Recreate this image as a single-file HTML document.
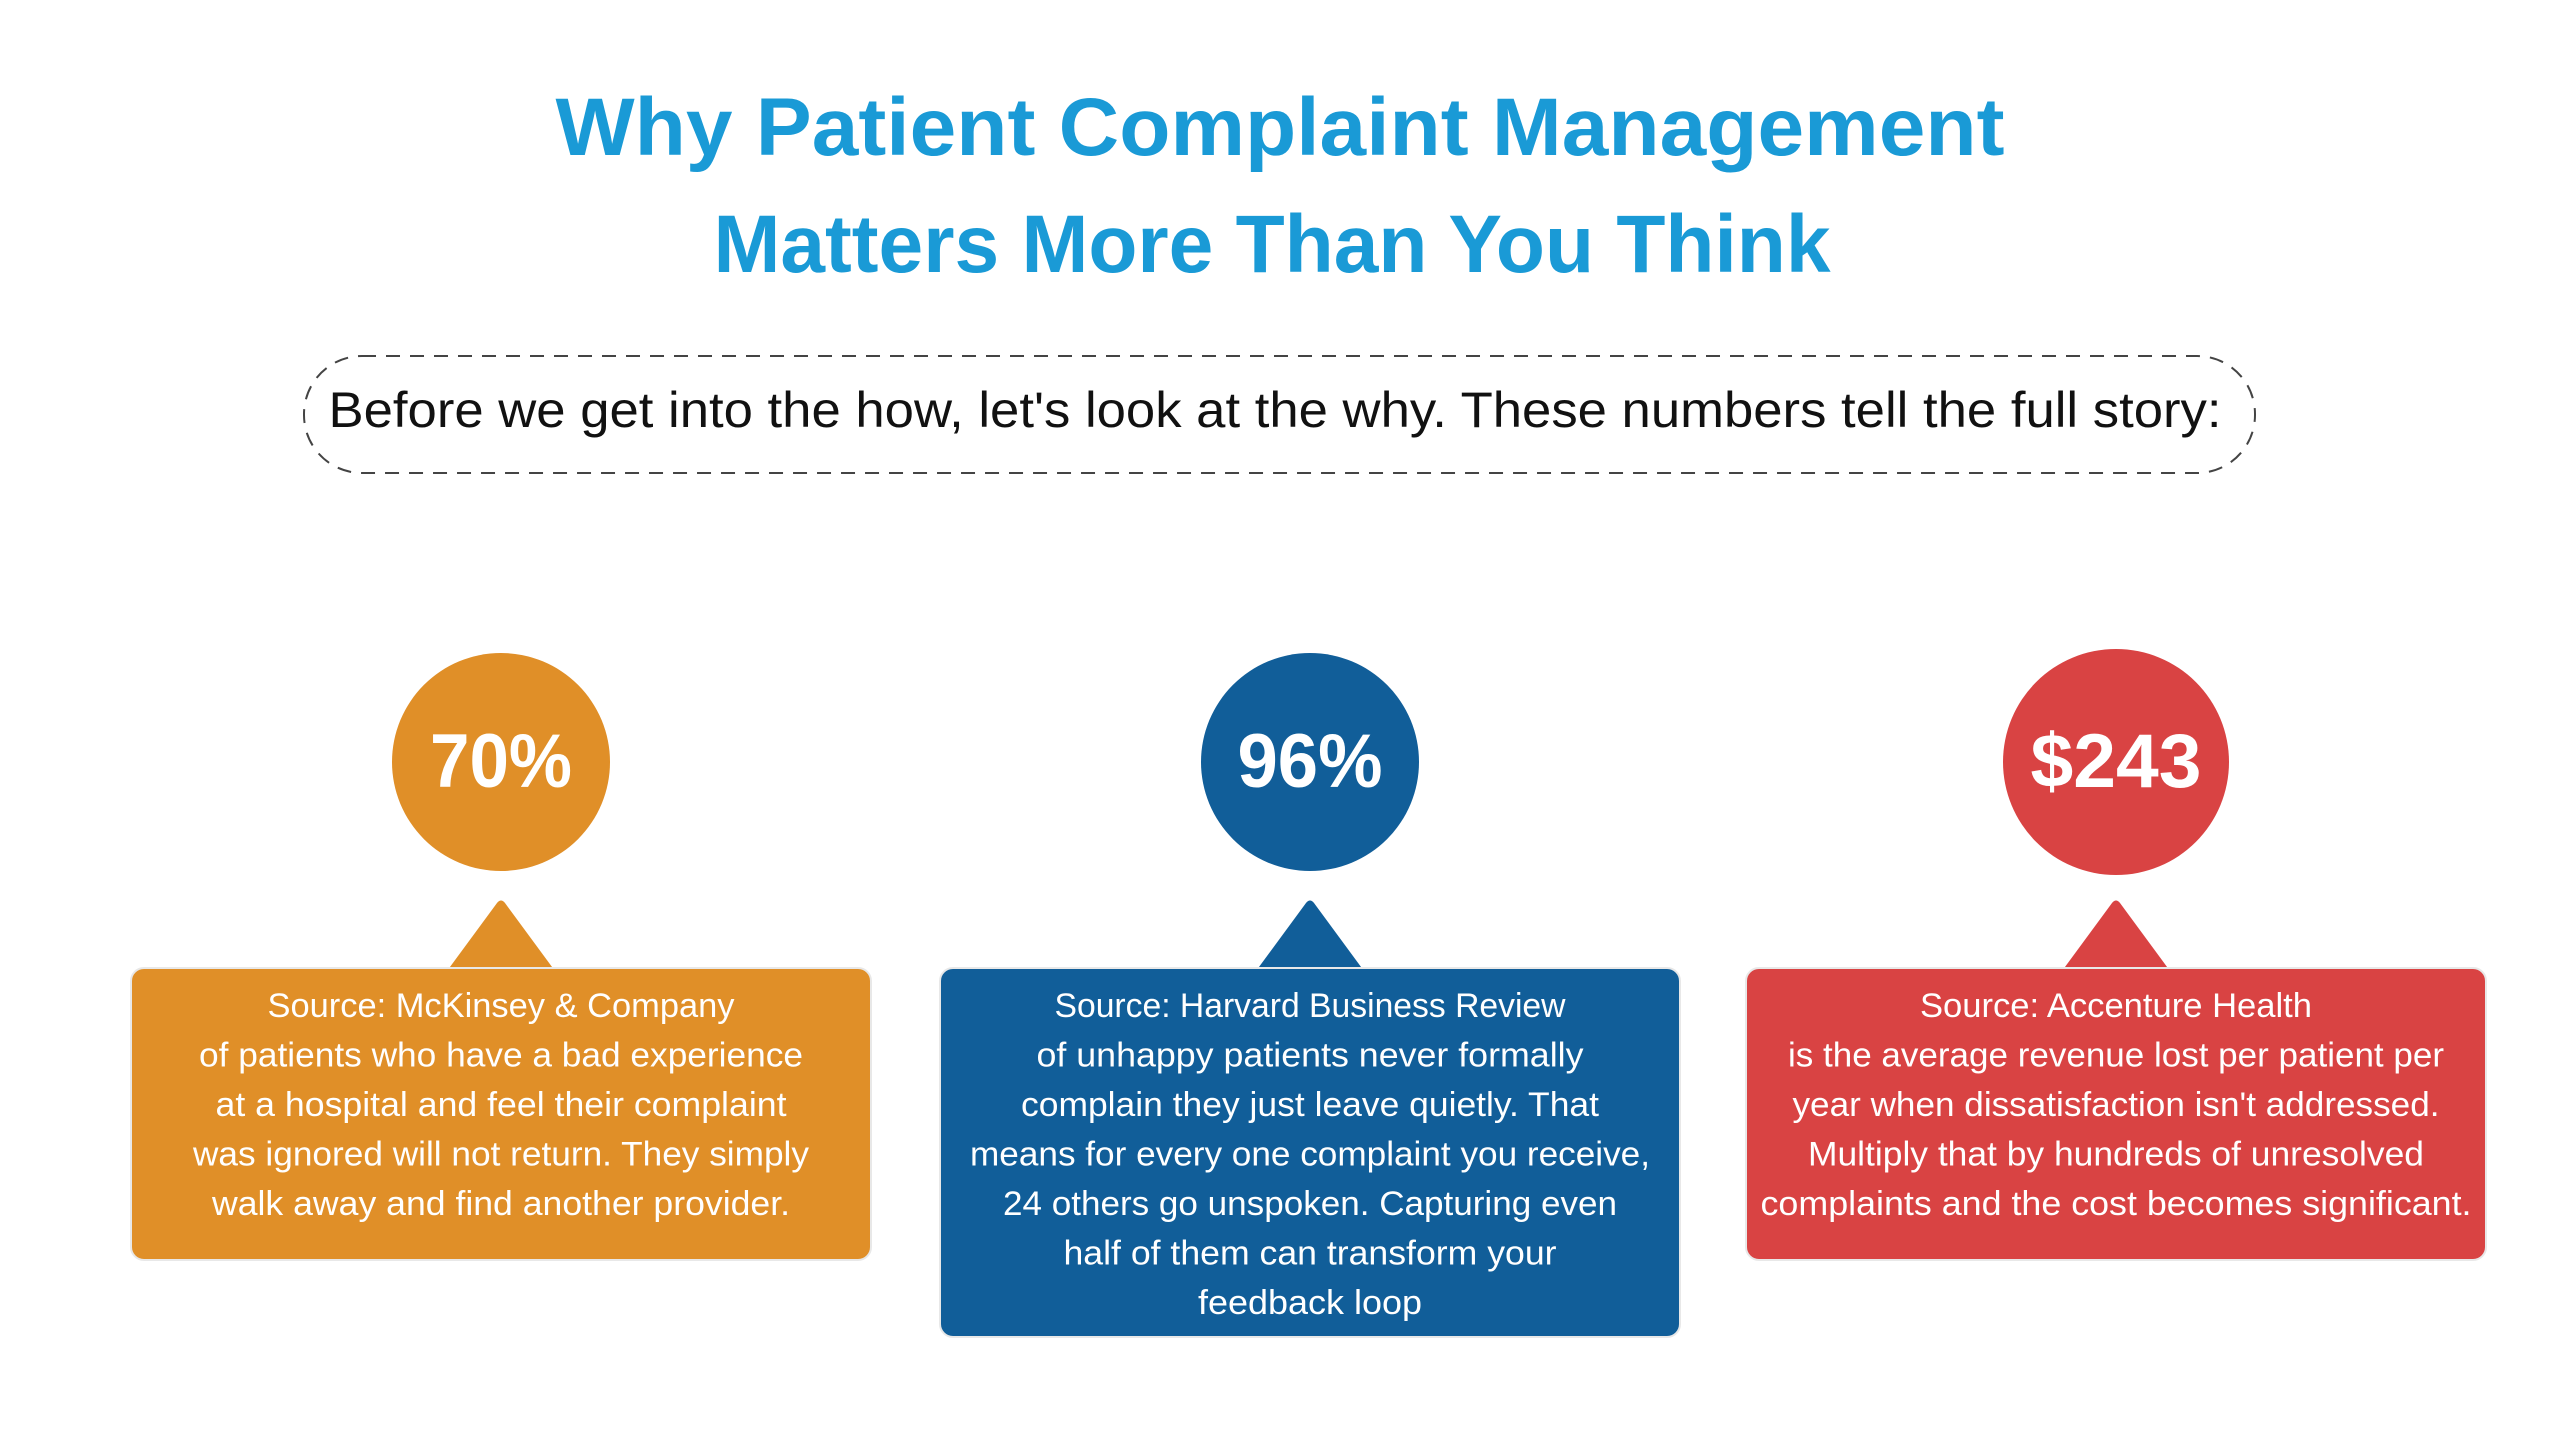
<!DOCTYPE html>
<html><head><meta charset="utf-8"><style>
html,body{margin:0;padding:0;background:#fff;}
svg{display:block;font-family:"Liberation Sans",sans-serif;}
</style></head><body>
<svg id="chart" width="2560" height="1440" viewBox="0 0 2560 1440" xmlns="http://www.w3.org/2000/svg">
<rect width="2560" height="1440" fill="#fff"/>
<text x="1280" y="155" text-anchor="middle" font-size="82" font-weight="bold" fill="#1a9ad6" textLength="1449" lengthAdjust="spacingAndGlyphs">Why Patient Complaint Management</text>
<text x="1272" y="272" text-anchor="middle" font-size="82" font-weight="bold" fill="#1a9ad6" textLength="1117" lengthAdjust="spacingAndGlyphs">Matters More Than You Think</text>
<rect x="304" y="356" width="1951" height="117" rx="58" fill="none" stroke="#444" stroke-width="2" stroke-dasharray="14 10"/>
<text x="1275" y="427" text-anchor="middle" font-size="50" fill="#111" textLength="1893" lengthAdjust="spacingAndGlyphs">Before we get into the how, let's look at the why. These numbers tell the full story:</text>
<g id="cards"></g>
</svg>
<script>
const statValues = ["70%", "96%", "$243"];
const statSources = ["Source: McKinsey & Company", "Source: Harvard Business Review", "Source: Accenture Health"];
const statLines = [
 ["of patients who have a bad experience","at a hospital and feel their complaint","was ignored  will not return. They simply","walk away and find another provider."],
 ["of unhappy patients never formally","complain they just leave quietly. That","means for every one complaint you receive,","24 others go unspoken. Capturing even","half of them can transform your","feedback loop"],
 ["is the average revenue lost per patient per","year when dissatisfaction isn't addressed.","Multiply that by hundreds of unresolved","complaints and the cost becomes significant."]
];
const colors=["#e08f28","#115e99","#d94343"];
const centers=[501,1310,2116];
const radii=[109,109,113];
const valueW=[142,145,171];
const lineW=[[467,604,571,616,578],[511,547,578,680,614,493,224],[392,656,647,616,711]];
const NS="http://www.w3.org/2000/svg";
const g=document.getElementById('cards');
function mk(tag,attrs,parent){const e=document.createElementNS(NS,tag);for(const k in attrs)e.setAttribute(k,attrs[k]);parent.appendChild(e);return e;}
statValues.forEach((v,i)=>{
 const cx=centers[i], col=colors[i];
 const grp=mk('g',{},g);
 
 
 const c=mk('circle',{cx:cx,cy:762,r:radii[i],fill:col},grp);
 
 
 const t=mk('text',{x:cx,y:787,'text-anchor':'middle','font-size':76,'font-weight':'bold',fill:'#fff',textLength:valueW[i],lengthAdjust:'spacingAndGlyphs'},grp);
 t.textContent=v;
 
 
 const lines=[statSources[i]].concat(statLines[i]);
 const h=Math.max(292,72+49.5*(lines.length-1));
 const x0=cx-370;
 const tri=mk('path',{d:`M${cx-54},971 L${cx-4},903 Q${cx},898 ${cx+4},903 L${cx+54},971 Z`,fill:col},grp);
 
 
 const r=mk('rect',{x:x0,y:968,width:740,height:h,rx:13,fill:col,stroke:'#e8e8e8','stroke-width':2},grp);
 
 
 lines.forEach((ln,j)=>{
  const tt=mk('text',{x:cx,y:1017+j*49.5,'text-anchor':'middle','font-size':34,fill:'#fff',textLength:lineW[i][j],lengthAdjust:'spacingAndGlyphs'},grp);
  tt.textContent=ln;
  
  
 });
});
</script>
</body></html>
